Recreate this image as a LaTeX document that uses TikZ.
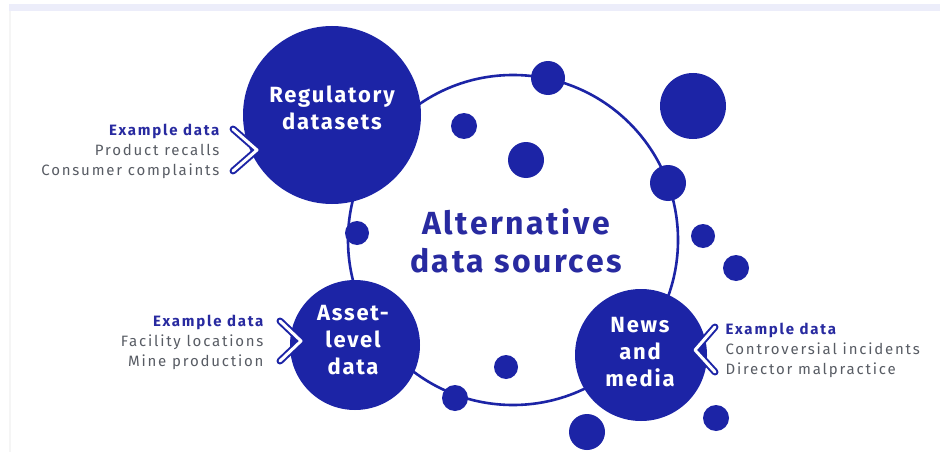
\documentclass[tikz,border=0pt]{standalone}
\usepackage{fontspec}
\setmainfont{Fira Sans}
\newfontfamily\headfont[LetterSpace=8]{Fira Sans}
\newfontfamily\smallfont[LetterSpace=12]{Fira Sans}
\definecolor{dblue}{RGB}{28,36,166}
\definecolor{tblue}{RGB}{40,42,160}
\definecolor{lgray}{RGB}{88,92,100}
\definecolor{band}{RGB}{236,237,250}
\tikzset{
  blob/.style={circle, fill=dblue, inner sep=0pt, minimum size=#1},
  ringc/.style={circle, draw=dblue, line width=2.6pt, inner sep=0pt, minimum size=#1},
  bigtitle/.style={text=white, align=center, font=\headfont\bfseries\fontsize{22}{27}\selectfont},
  centertitle/.style={text=tblue, align=center, font=\headfont\bfseries\fontsize{32}{38}\selectfont},
  example/.style={font=\smallfont\fontsize{15}{20}\selectfont, text=lgray},
  chevout/.style={draw=dblue, line width=7pt, line join=round, line cap=round},
  chevin/.style={draw=white, line width=3pt, line join=round, line cap=round},
}
\newcommand{\exhead}{\textcolor{tblue}{\bfseries Example data}}
\begin{document}
\begin{tikzpicture}[x=1pt,y=-1pt]
\useasboundingbox (0,0) rectangle (940,452);
\fill[white] (0,0) rectangle (940,452);
\fill[band] (9,4) rectangle (940,11);
\fill[black!4] (9,11) rectangle (11,452);
% ring
\node[ringc=330] (ring) at (513,240) {};
% main circles
\node[blob=178] (reg) at (332,115) {};
\node[blob=130] (asset) at (355,345) {};
\node[blob=132] (news) at (641,355) {};
% small dots
\node[blob=34] (d1) at (548,78) {};
\node[blob=66] (d2) at (693,106) {};
\node[blob=26] (d3) at (464,126) {};
\node[blob=36] (d4) at (526,160) {};
\node[blob=36] (d5) at (668,183) {};
\node[blob=24] (d6) at (357,233) {};
\node[blob=24] (d7) at (703,236) {};
\node[blob=26] (d8) at (736,268) {};
\node[blob=24] (d9) at (506,367) {};
\node[blob=26] (d10) at (455,398) {};
\node[blob=36] (d11) at (587,432) {};
\node[blob=26] (d12) at (716,418) {};
% chevrons
\draw[chevout] (233,129) -- (257,150) -- (233,171);
\draw[chevin] (233,129) -- (257,150) -- (233,171);
\draw[chevout] (280,321) -- (301,341) -- (280,361);
\draw[chevin] (280,321) -- (301,341) -- (280,361);
\draw[chevout] (715,327) -- (695,350) -- (715,372);
\draw[chevin] (715,327) -- (695,350) -- (715,372);
% titles
\node[bigtitle] (tr) at (332,108) {Regulatory\\datasets};
\node[bigtitle] (ta) at (353,340) {Asset-\\level\\data};
\node[bigtitle] (tn) at (640,352) {News\\and\\media};
\node[centertitle] (tc) at (516,241) {Alternative\\data sources};
% example labels
\node[example, anchor=east, align=right] (e1) at (223,151) {\exhead\\Product recalls\\Consumer complaints};
\node[example, anchor=east, align=right] (e2) at (267,342) {\exhead\\Facility locations\\Mine production};
\node[example, anchor=west, align=left] (e3) at (722,350) {\exhead\\Controversial incidents\\Director malpractice};
\end{tikzpicture}
\end{document}
